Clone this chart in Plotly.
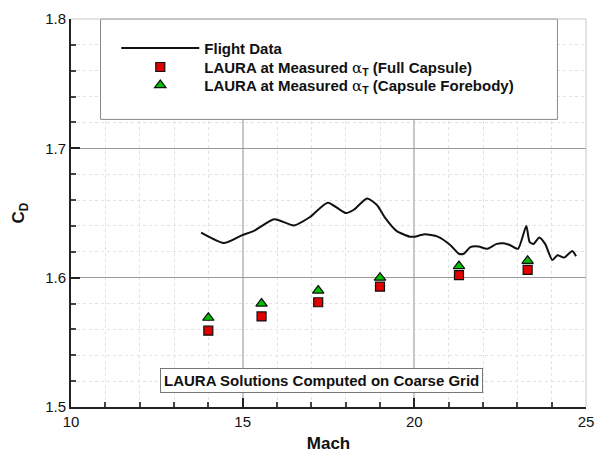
import plotly.graph_objects as go

# Flight data (Mach, CD)
flight_mach = [13.79, 14.47, 14.99, 15.33, 15.92, 16.49, 16.95, 17.48, 18.00, 18.24,
               18.62, 18.91, 19.15, 19.48, 19.87, 20.01, 20.30, 20.68, 21.06, 21.30,
               21.44, 21.63, 21.87, 22.11, 22.40, 22.59, 22.78, 23.02, 23.26, 23.36,
               23.47, 23.64, 23.81, 24.02, 24.17, 24.36, 24.60, 24.71]
flight_cd = [1.6349, 1.6268, 1.6329, 1.6362, 1.6452, 1.6404, 1.6467, 1.6580, 1.6500, 1.6525,
             1.6613, 1.6562, 1.6462, 1.6362, 1.6317, 1.6317, 1.6336, 1.6317, 1.6249, 1.6185,
             1.6185, 1.6236, 1.6241, 1.6223, 1.6261, 1.6266, 1.6253, 1.6223, 1.6399, 1.6274,
             1.6261, 1.6311, 1.6261, 1.6136, 1.6173, 1.6155, 1.6206, 1.6166]

# LAURA solutions
laura_mach = [14.0, 15.55, 17.2, 19.0, 21.3, 23.3]
laura_full = [1.559, 1.570, 1.581, 1.593, 1.602, 1.606]
laura_fore = [1.569, 1.580, 1.590, 1.600, 1.609, 1.613]

x_ticks = [10, 15, 20, 25]
y_ticks = [1.5, 1.6, 1.7, 1.8]

FONT = "Liberation Sans, Arial, sans-serif"
alpha = "<span style='font-weight:normal;font-family:DejaVu Serif'>α</span><sub>T</sub>"

fig = go.Figure()
fig.add_trace(go.Scatter(
    x=flight_mach, y=flight_cd, mode="lines", name="Flight Data", legend="legend",
    line=dict(color="#111111", width=2, shape="spline", smoothing=0.6)))
fig.add_trace(go.Scatter(
    x=laura_mach, y=laura_full, mode="markers", legend="legend2",
    name=f"LAURA at Measured {alpha} (Full Capsule)",
    marker=dict(symbol="square", size=9, color="#e00000",
                line=dict(color="#111111", width=1.2))))
fig.add_trace(go.Scatter(
    x=laura_mach, y=laura_fore, mode="markers", legend="legend3",
    name=f"LAURA at Measured {alpha} (Capsule Forebody)",
    marker=dict(symbol="triangle-up", size=10, color="#00c000",
                line=dict(color="#111111", width=1.2))))

# legend box (opaque)
fig.add_shape(type="rect", xref="paper", yref="paper",
              x0=(101 - 71) / 523, x1=(565 - 71) / 523,
              y0=(414 - 119) / 398, y1=1.0,
              fillcolor="white", line=dict(color="#888888", width=1), layer="above")
# light top/right frame
fig.add_shape(type="line", xref="paper", yref="paper", x0=0, x1=1, y0=1, y1=1,
              line=dict(color="#c8c8c8", width=1), layer="above")
fig.add_shape(type="line", xref="paper", yref="paper", x0=1, x1=1, y0=0, y1=1,
              line=dict(color="#c8c8c8", width=1), layer="above")

fig.add_annotation(x=17.3, y=1.5203, xref="x", yref="y",
                   text="<b>LAURA Solutions Computed on Coarse Grid</b>",
                   showarrow=False, font=dict(family=FONT, size=15, color="#111111"),
                   bgcolor="white", bordercolor="#777777", borderwidth=1, borderpad=3)

legend_style = dict(xanchor="left", yanchor="middle", bgcolor="rgba(0,0,0,0)",
                    borderwidth=0, itemwidth=78,
                    font=dict(family=FONT, size=15, color="#111111", weight="bold"))
lx = (117 - 71) / 523

fig.update_layout(
    width=604, height=460,
    margin=dict(l=71, r=10, t=16, b=46),
    paper_bgcolor="white", plot_bgcolor="white",
    font=dict(family=FONT, color="#111111"),
    showlegend=True,
    legend=dict(x=lx, y=(414 - 46) / 398, **legend_style),
    legend2=dict(x=lx, y=(414 - 65.5) / 398, **legend_style),
    legend3=dict(x=lx, y=(414 - 84) / 398, **legend_style),
    xaxis=dict(range=[10, 25], tickvals=x_ticks, ticks="inside", ticklen=9, tickwidth=2,
               tickcolor="#222222", showline=True, linecolor="#222222", linewidth=2,
               showgrid=True, gridcolor="#c8c8c8", gridwidth=1.5, zeroline=False,
               tickfont=dict(family=FONT, size=15, color="#111111"),
               title=dict(text="<b>Mach</b>", font=dict(family=FONT, size=17), standoff=8),
               minor=dict(dtick=1, ticks="inside", ticklen=5, tickcolor="#444444",
                          showgrid=True, gridcolor="#e2e2e2", griddash="dot", gridwidth=1)),
    yaxis=dict(range=[1.5, 1.8], tickvals=y_ticks, ticktext=["1.5", "1.6", "1.7", "1.8"],
               ticks="inside", ticklen=9, tickwidth=2,
               tickcolor="#222222", showline=True, linecolor="#222222", linewidth=2,
               showgrid=True, gridcolor="#9a9a9a", gridwidth=1, zeroline=False,
               tickfont=dict(family=FONT, size=15, color="#111111"),
               title=dict(text="<b>C<sub>D</sub></b>", font=dict(family=FONT, size=17), standoff=16),
               minor=dict(dtick=0.02, ticks="inside", ticklen=5, tickcolor="#444444",
                          showgrid=True, gridcolor="#e2e2e2", griddash="dot", gridwidth=1)),
)

fig.write_html("out.html")
